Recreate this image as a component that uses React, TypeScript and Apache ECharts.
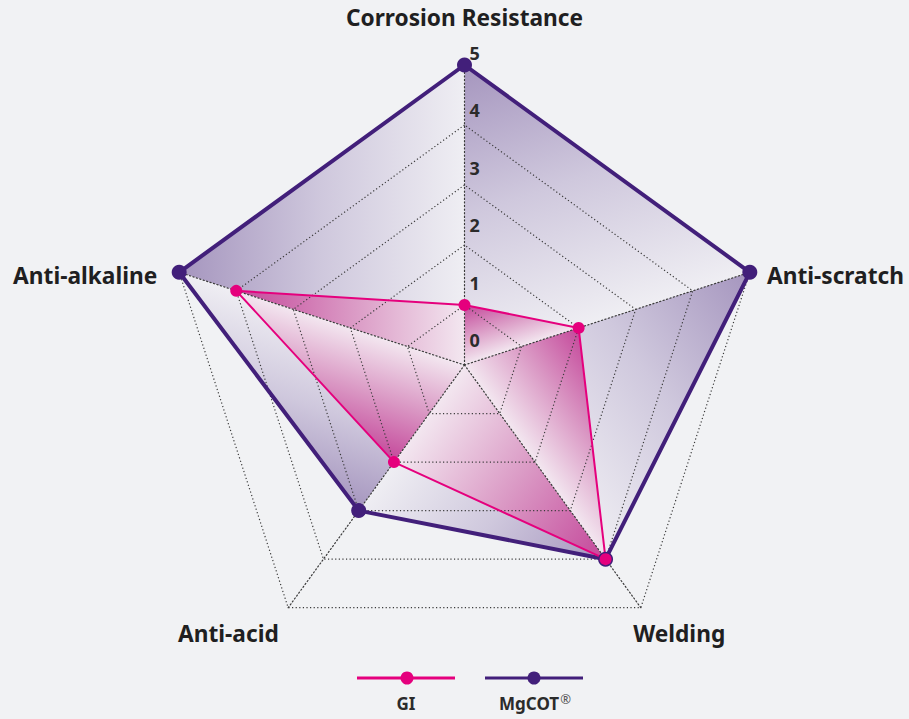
import React, { useEffect, useRef } from 'react';
import * as echarts from 'echarts';

// ---- data ----
const indicatorNames = ['Corrosion Resistance', 'Anti-alkaline', 'Anti-acid', 'Welding', 'Anti-scratch'];
const maxValue = 5;
const giValues = [1, 4, 2, 4, 2];
const mgcotValues = [5, 5, 3, 4, 5];
const seriesNames = ['GI', 'MgCOT®'];

// ---- styling ----
const PINK = '#e5007d';
const PURPLE = '#421f7a';
const BG = '#f1f2f4';
const FONT = 'Noto Sans';
const purpleStops = [
  { offset: 0, color: '#a595be' },
  { offset: 0.5, color: '#cfc8dd' },
  { offset: 1, color: '#efeef3' },
];
const pinkStops = [
  { offset: 0, color: '#c4479a' },
  { offset: 0.5, color: '#da98c4' },
  { offset: 1, color: '#f3e7f0' },
];
// per indicator name placement tweaks (same order as indicatorNames)
const nameLayout: any[] = [
  { gap: 36, padding: [0, 0, 0, 0] },
  { gap: 23, padding: [-1, 0, 0, 0], verticalAlign: 'top' },
  { gap: 16, padding: [1, 0, 0, 0], verticalAlign: 'top' },
  { gap: 16, padding: [1, 0, 0, 58], align: 'center', verticalAlign: 'top' },
  { gap: 18, padding: [-3, 0, 0, 0], verticalAlign: 'top' },
];

function unitPoint(values: number[], idx: number) {
  const n = values.length;
  const a = ((90 + (360 * idx) / n) * Math.PI) / 180;
  const r = values[idx] / maxValue;
  return [r * Math.cos(a), -r * Math.sin(a)];
}

// one triangle (centre, vertex k, clockwise neighbour) per facet;
// shading runs from vertex k (dark) to the opposite edge (light)
function facets(values: number[], stops: any[]) {
  const n = values.length;
  const items: any[] = [];
  for (let k = 0; k < n; k++) {
    const j = (k - 1 + n) % n;
    const val = values.map((v, i) => (i === k || i === j ? v : 0));
    const A = unitPoint(values, k);
    const B = unitPoint(values, j);
    const xs = [0, A[0], B[0]];
    const ys = [0, A[1], B[1]];
    const minX = Math.min(...xs);
    const minY = Math.min(...ys);
    const w = Math.max(...xs) - minX || 1;
    const h = Math.max(...ys) - minY || 1;
    const an = [(A[0] - minX) / w, (A[1] - minY) / h];
    const bn = [(B[0] - minX) / w, (B[1] - minY) / h];
    const cn = [(0 - minX) / w, (0 - minY) / h];
    const d = [bn[0] - cn[0], bn[1] - cn[1]];
    const t = ((an[0] - cn[0]) * d[0] + (an[1] - cn[1]) * d[1]) / (d[0] * d[0] + d[1] * d[1]);
    const foot = [cn[0] + t * d[0], cn[1] + t * d[1]];
    items.push({
      value: val,
      areaStyle: {
        opacity: 1,
        color: new echarts.graphic.LinearGradient(an[0], an[1], foot[0], foot[1], stops),
      },
    });
  }
  return items;
}

export default function App() {
  const ref = useRef<HTMLDivElement>(null);

  useEffect(() => {
    if (!ref.current) return;
    const chart = echarts.init(ref.current, null, { renderer: 'svg' });
    const dotted = { color: '#3a3a3a', width: 1.2, type: [1.2, 2.4] as any };

    const option: any = {
      animation: false,
      backgroundColor: BG,
      textStyle: { fontFamily: FONT },
      radar: [
        {
          center: [464.5, 365],
          radius: 300,
          startAngle: 90,
          splitNumber: 5,
          shape: 'polygon',
          z: 2,
          indicator: indicatorNames.map((name, i) => ({
            name,
            min: 0,
            max: maxValue,
            nameGap: nameLayout[i].gap,
            nameTextStyle: {
              padding: nameLayout[i].padding,
              ...(nameLayout[i].align ? { align: nameLayout[i].align } : {}),
              ...(nameLayout[i].verticalAlign ? { verticalAlign: nameLayout[i].verticalAlign } : {}),
            },
            axisLabel: { show: false },
          })),
          axisName: {
            show: true,
            color: '#1f1f21',
            fontSize: 22.7,
            fontWeight: 'bold',
            fontFamily: FONT,
          },
          axisLine: { show: true, lineStyle: dotted },
          splitLine: { show: true, lineStyle: dotted },
          splitArea: { show: false },
          axisTick: { show: false },
          axisLabel: { show: false },
        },
        {
          center: [464.5, 340],
          radius: 287,
          startAngle: 90,
          splitNumber: 5,
          shape: 'polygon',
          z: 4,
          indicator: indicatorNames.map((name, i) => ({
            name,
            min: 0,
            max: maxValue,
            axisLabel: { show: i === 0 },
          })),
          axisName: { show: false },
          axisLine: { show: false },
          splitLine: { show: false },
          splitArea: { show: false },
          axisTick: { show: false },
          axisLabel: {
            show: true,
            color: '#2b2b2b',
            fontSize: 18,
            fontWeight: 'bold',
            fontFamily: FONT,
            margin: -5,
            align: 'left',
          },
        },
      ],
      series: [
        {
          type: 'radar',
          radarIndex: 0,
          z: 1,
          silent: true,
          symbol: 'none',
          lineStyle: { width: 0, opacity: 0 },
          data: facets(mgcotValues, purpleStops),
        },
        {
          type: 'radar',
          radarIndex: 0,
          z: 1,
          silent: true,
          symbol: 'none',
          lineStyle: { width: 0, opacity: 0 },
          data: facets(giValues, pinkStops),
        },
        {
          type: 'radar',
          radarIndex: 0,
          name: seriesNames[1],
          z: 3,
          symbol: 'circle',
          symbolSize: 15,
          lineStyle: { width: 4, color: PURPLE },
          itemStyle: { color: PURPLE },
          data: [{ value: mgcotValues, name: seriesNames[1] }],
        },
        {
          type: 'radar',
          radarIndex: 0,
          name: seriesNames[0],
          z: 3,
          symbol: 'circle',
          symbolSize: 12,
          lineStyle: { width: 2, color: PINK },
          itemStyle: { color: PINK },
          data: [{ value: giValues, name: seriesNames[0] }],
        },
      ],
      graphic: [
        { type: 'line', shape: { x1: 357, y1: 678, x2: 455, y2: 678 }, style: { stroke: PINK, lineWidth: 3 } },
        { type: 'circle', shape: { cx: 407, cy: 678, r: 6.5 }, style: { fill: PINK } },
        {
          type: 'text',
          x: 406,
          y: 703,
          style: {
            text: seriesNames[0],
            align: 'center',
            verticalAlign: 'middle',
            fill: '#2b2b2b',
            font: `bold 17px "${FONT}"`,
          },
        },
        { type: 'line', shape: { x1: 485, y1: 678, x2: 583, y2: 678 }, style: { stroke: PURPLE, lineWidth: 3 } },
        { type: 'circle', shape: { cx: 534, cy: 678, r: 6.5 }, style: { fill: PURPLE } },
        {
          type: 'text',
          x: 535,
          y: 703,
          style: {
            text: 'MgCOT{r|®}',
            align: 'center',
            verticalAlign: 'middle',
            fill: '#2b2b2b',
            font: `bold 17px "${FONT}"`,
            rich: {
              r: { fontSize: 13, fontWeight: 'normal', fill: '#555', padding: [0, 0, 9, 1], fontFamily: FONT },
            },
          },
        },
      ],
    };

    chart.setOption(option);
    return () => chart.dispose();
  }, []);

  return (
    <div
      ref={ref}
      style={{ position: 'fixed', left: 0, top: 0, width: 909, height: 719, background: BG }}
    />
  );
}
